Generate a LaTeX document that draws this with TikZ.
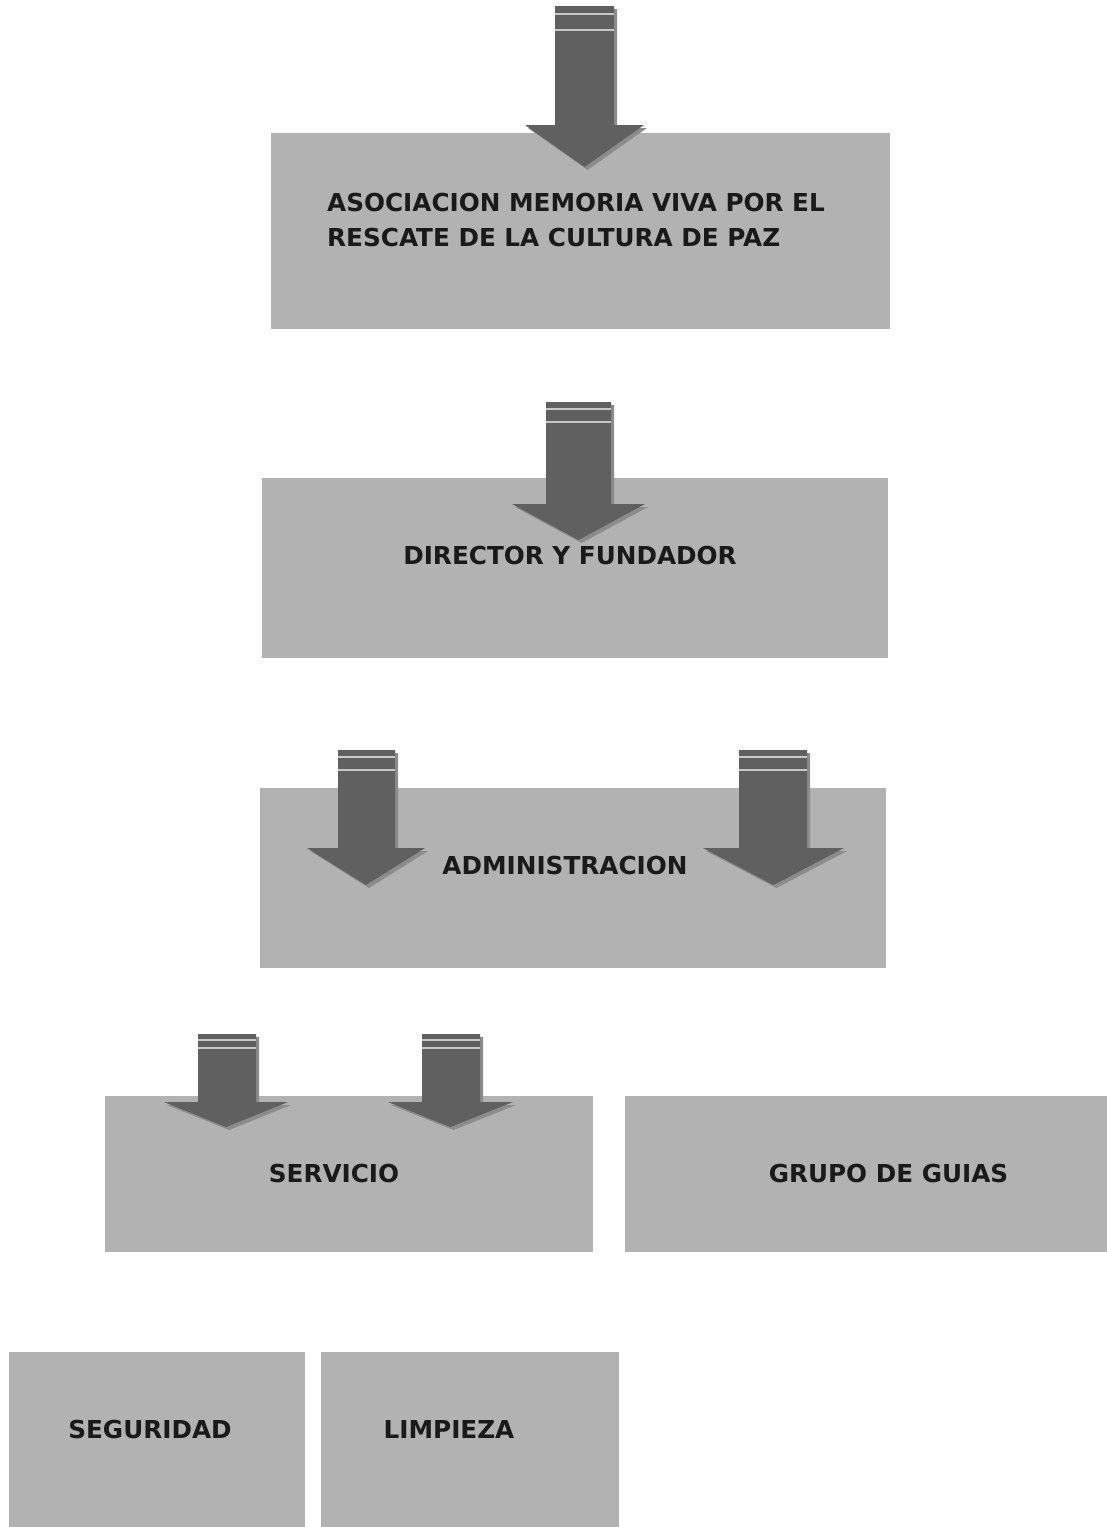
\documentclass[tikz,border=0pt]{standalone}
\usepackage{fontspec}
\setmainfont{DejaVu Sans}
\usetikzlibrary{calc}
\definecolor{boxgray}{HTML}{B2B2B2}
\definecolor{arrowgray}{HTML}{606060}
\definecolor{shadegray}{HTML}{8C8C8C}
\definecolor{stripegray}{HTML}{C8C8C8}
\definecolor{labelblack}{HTML}{1A1A1A}
\tikzset{
  orgbox/.style={fill=boxgray, inner sep=0pt},
  boxlabel/.style={text=labelblack, font=\fontsize{24.7}{35}\selectfont\bfseries, inner sep=0pt},
  arrowbody/.style={fill=arrowgray},
  arrowshade/.style={fill=shadegray, xshift=3pt, yshift=-3pt},
  arrowstripe/.style={draw=stripegray, line width=1.2pt}
}
% block arrow: shaft left, shaft right, top, head y, head left, head right, tip y, stripe 1, stripe 2
\newcommand{\bigarrow}[9]{
  \fill[arrowshade] (#1,#3) -- (#2,#3) -- (#2,#4) -- (#6,#4) -- ({(#5+#6)/2},#7) -- (#5,#4) -- (#1,#4) -- cycle;
  \fill[arrowbody] (#1,#3) -- (#2,#3) -- (#2,#4) -- (#6,#4) -- ({(#5+#6)/2},#7) -- (#5,#4) -- (#1,#4) -- cycle;
  \draw[arrowstripe] (#1,#8) -- (#2,#8);
  \draw[arrowstripe] (#1,#9) -- (#2,#9);
}

\begin{document}
\begin{tikzpicture}[x=1pt,y=-1pt]
\useasboundingbox (0,0) rectangle (1107,1527);

% boxes
\node[orgbox, minimum width=619pt, minimum height=196pt] (asoc) at (580.5,231) {};
\node[orgbox, minimum width=626pt, minimum height=180pt] (director) at (575,568) {};
\node[orgbox, minimum width=626pt, minimum height=180pt] (admin) at (573,878) {};
\node[orgbox, minimum width=488pt, minimum height=156pt] (servicio) at (349,1174) {};
\node[orgbox, minimum width=482pt, minimum height=156pt] (guias) at (866,1174) {};
\node[orgbox, minimum width=296pt, minimum height=175pt] (seguridad) at (157,1439.5) {};
\node[orgbox, minimum width=298pt, minimum height=175pt] (limpieza) at (470,1439.5) {};

% arrows
\bigarrow{555}{614}{6}{125}{525}{644}{167}{14}{30}
\bigarrow{546}{611}{402}{504}{512}{645}{540}{409}{422}
\bigarrow{338}{395}{750}{848}{307}{425}{885}{757}{770}
\bigarrow{739}{807}{750}{848}{703}{844}{885}{757}{770}
\bigarrow{198}{256}{1034}{1102}{164}{288}{1127}{1040}{1048}
\bigarrow{422}{480}{1034}{1102}{388}{513}{1127}{1040}{1048}

% labels
\node[boxlabel, anchor=west, align=left] (asoctext) at (327,220.5) {ASOCIACION MEMORIA VIVA POR EL\\RESCATE DE LA CULTURA DE PAZ};
\node[boxlabel] (directortext) at (570,555) {DIRECTOR Y FUNDADOR};
\node[boxlabel] (admintext) at (565,865) {ADMINISTRACION};
\node[boxlabel] (serviciotext) at (334,1173) {SERVICIO};
\node[boxlabel] (guiastext) at (888.5,1173) {GRUPO DE GUIAS};
\node[boxlabel] (seguridadtext) at (150,1429) {SEGURIDAD};
\node[boxlabel] (limpiezatext) at (449,1429) {LIMPIEZA};
\end{tikzpicture}
\end{document}
